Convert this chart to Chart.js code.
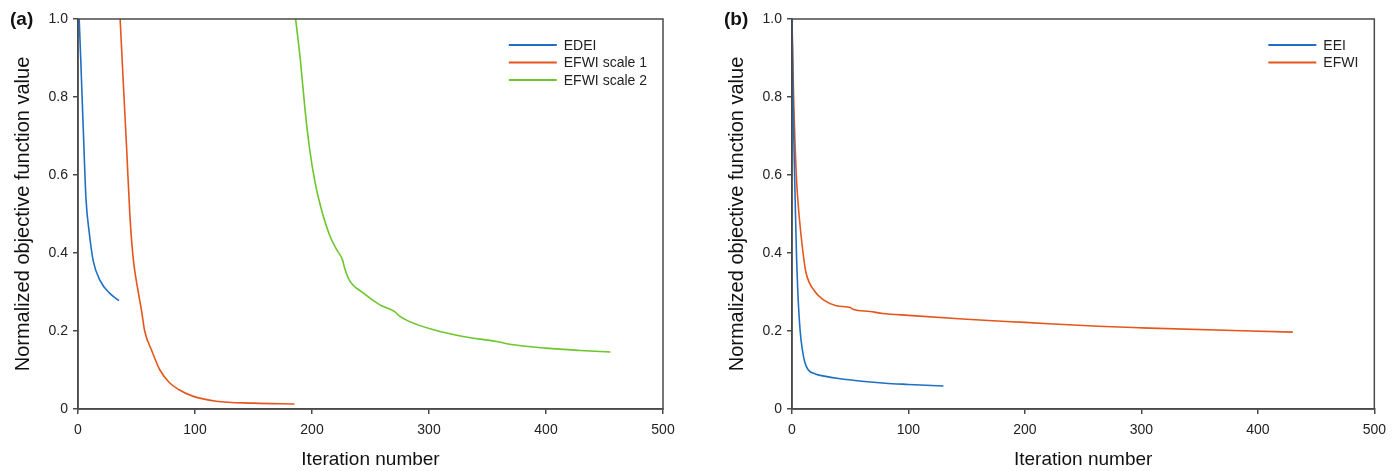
<!DOCTYPE html>
<html>
<head>
<meta charset="utf-8">
<script src="https://cdn.jsdelivr.net/npm/chart.js@4/dist/chart.umd.min.js"></script>
<style>
  body { margin: 0; background: #fff; }
  .wrap { position: absolute; top: 0; width: 697px; height: 471px; }
</style>
</head>
<body>
<div class="wrap" style="left:0"><canvas id="chartA" width="697" height="471"></canvas></div>
<div class="wrap" style="left:697px"><canvas id="chartB" width="697" height="471"></canvas></div>
<script>
// axis ticks
const xTicks = [0, 100, 200, 300, 400, 500];
const yTicks = [0, 0.2, 0.4, 0.6, 0.8, 1.0];
const yTickLabels = ['0', '0.2', '0.4', '0.6', '0.8', '1.0'];

// panel (a)
const edeiIter = [1, 2.3, 4.6, 6.8, 9.7, 13, 18.8, 27, 35];
const edeiVal  = [1.0, 0.9, 0.71, 0.54, 0.45, 0.38, 0.33, 0.297, 0.278];

const efwi1Iter = [36, 38.7, 41.6, 44.4, 47.3, 51.5, 54.4, 57, 63, 70, 78, 86, 98, 118, 150, 185];
const efwi1Val  = [1.0, 0.838, 0.666, 0.494, 0.383, 0.3, 0.25, 0.2, 0.15, 0.1, 0.068, 0.05, 0.033, 0.02, 0.015, 0.013];

const efwi2Iter = [186, 190, 194, 198, 202.6, 208, 215.4, 221, 226, 228, 231.6, 244, 258, 271, 274, 282, 304, 329, 358, 369, 400, 429, 455];
const efwi2Val  = [1.0, 0.897, 0.769, 0.666, 0.581, 0.512, 0.443, 0.409, 0.383, 0.36, 0.332, 0.297, 0.267, 0.249, 0.24, 0.226, 0.203, 0.186, 0.173, 0.166, 0.156, 0.15, 0.146];

// panel (b)
const eeiIter = [0, 1, 2, 3, 4, 5, 7, 9, 11, 14, 20, 30, 40, 60, 80, 100, 130];
const eeiVal  = [1.0, 0.78, 0.63, 0.5, 0.38, 0.3, 0.2, 0.15, 0.12, 0.1, 0.09, 0.083, 0.078, 0.071, 0.066, 0.063, 0.059];

const efwiIter = [0, 1.4, 3.7, 6, 9.5, 12, 20, 27, 38, 50, 53, 67, 78, 100, 150, 200, 263, 300, 430];
const efwiVal  = [1.0, 0.8, 0.6, 0.5, 0.4, 0.35, 0.3, 0.28, 0.265, 0.26, 0.255, 0.25, 0.245, 0.24, 0.23, 0.222, 0.212, 0.208, 0.197];

const BLUE = '#1f70c4';
const ORANGE = '#e6561c';
const GREEN = '#6cc62c';
const AXIS = '#4a4a4a';
const FONT = '"Liberation Sans", Arial, sans-serif';

function pts(xs, ys) {
    return xs.map((x, i) => ({x: x, y: ys[i]}));
}

function series(label, xs, ys, color) {
    return {
        label: label,
        data: pts(xs, ys),
        borderColor: color,
        backgroundColor: color,
        borderWidth: 1.6,
        pointRadius: 0,
        showLine: true,
        cubicInterpolationMode: 'monotone'
    };
}

// frame, legend and panel letter
const decor = {
    id: 'decor',
    afterDraw(chart, args, opts) {
        const c = chart.ctx;
        const a = chart.chartArea;
        c.save();
        c.strokeStyle = AXIS;
        c.lineWidth = 1.5;
        c.strokeRect(a.left, a.top, a.right - a.left, a.bottom - a.top);

        c.font = 'bold 19px ' + FONT;
        c.fillStyle = '#111';
        c.textBaseline = 'middle';
        c.textAlign = 'left';
        c.fillText(opts.letter, a.left - 68, a.top + 1);

        c.font = '14px ' + FONT;
        const ds = chart.data.datasets;
        let w = 0;
        ds.forEach(d => { w = Math.max(w, c.measureText(d.label).width); });
        const tx = a.right - 16 - w;
        ds.forEach((d, i) => {
            const y = a.top + 26 + i * 17.5;
            c.strokeStyle = d.borderColor;
            c.lineWidth = 1.8;
            c.beginPath();
            c.moveTo(tx - 55, y);
            c.lineTo(tx - 7, y);
            c.stroke();
            c.fillStyle = '#222';
            c.fillText(d.label, tx, y + 1);
        });
        c.restore();
    }
};

function setupChart(id, letter, datasets, padLeft, padRight) {
    return new Chart(document.getElementById(id), {
        type: 'scatter',
        data: { datasets: datasets },
        options: {
            responsive: false,
            animation: false,
            layout: { padding: { left: padLeft, right: padRight, top: 19, bottom: 0 } },
            plugins: {
                legend: { display: false },
                tooltip: { enabled: false },
                decor: { letter: letter }
            },
            scales: {
                x: {
                    type: 'linear',
                    min: 0, max: 500,
                    afterBuildTicks: s => { s.ticks = xTicks.map(v => ({value: v})); },
                    grid: { drawOnChartArea: false, drawTicks: true, tickLength: 5, color: AXIS, lineWidth: 1.5 },
                    border: { display: true, color: AXIS, width: 1.5 },
                    ticks: { color: '#222', font: { size: 14, family: FONT }, padding: 8, maxRotation: 0 },
                    title: { display: true, text: 'Iteration number', color: '#111', font: { size: 19, family: FONT }, padding: { top: 20, bottom: 0 } },
                    afterFit: s => { s.height = 62; }
                },
                y: {
                    min: 0, max: 1,
                    afterBuildTicks: s => { s.ticks = yTicks.map(v => ({value: v})); },
                    grid: { drawOnChartArea: false, drawTicks: true, tickLength: 5, color: AXIS, lineWidth: 1.5 },
                    border: { display: true, color: AXIS, width: 1.5 },
                    ticks: {
                        color: '#222', font: { size: 14, family: FONT }, padding: 5,
                        callback: (v) => yTickLabels[yTicks.indexOf(v)]
                    },
                    title: { display: true, text: 'Normalized objective function value', color: '#111', font: { size: 20, family: FONT }, padding: { top: 11, bottom: 0 } },
                    afterFit: s => { s.width = 78; }
                }
            }
        },
        plugins: [decor]
    });
}

setupChart('chartA', '(a)', [
    series('EDEI', edeiIter, edeiVal, BLUE),
    series('EFWI scale 1', efwi1Iter, efwi1Val, ORANGE),
    series('EFWI scale 2', efwi2Iter, efwi2Val, GREEN)
], 0, 34);

setupChart('chartB', '(b)', [
    series('EEI', eeiIter, eeiVal, BLUE),
    series('EFWI', efwiIter, efwiVal, ORANGE)
], 17, 18);
</script>
</body>
</html>
